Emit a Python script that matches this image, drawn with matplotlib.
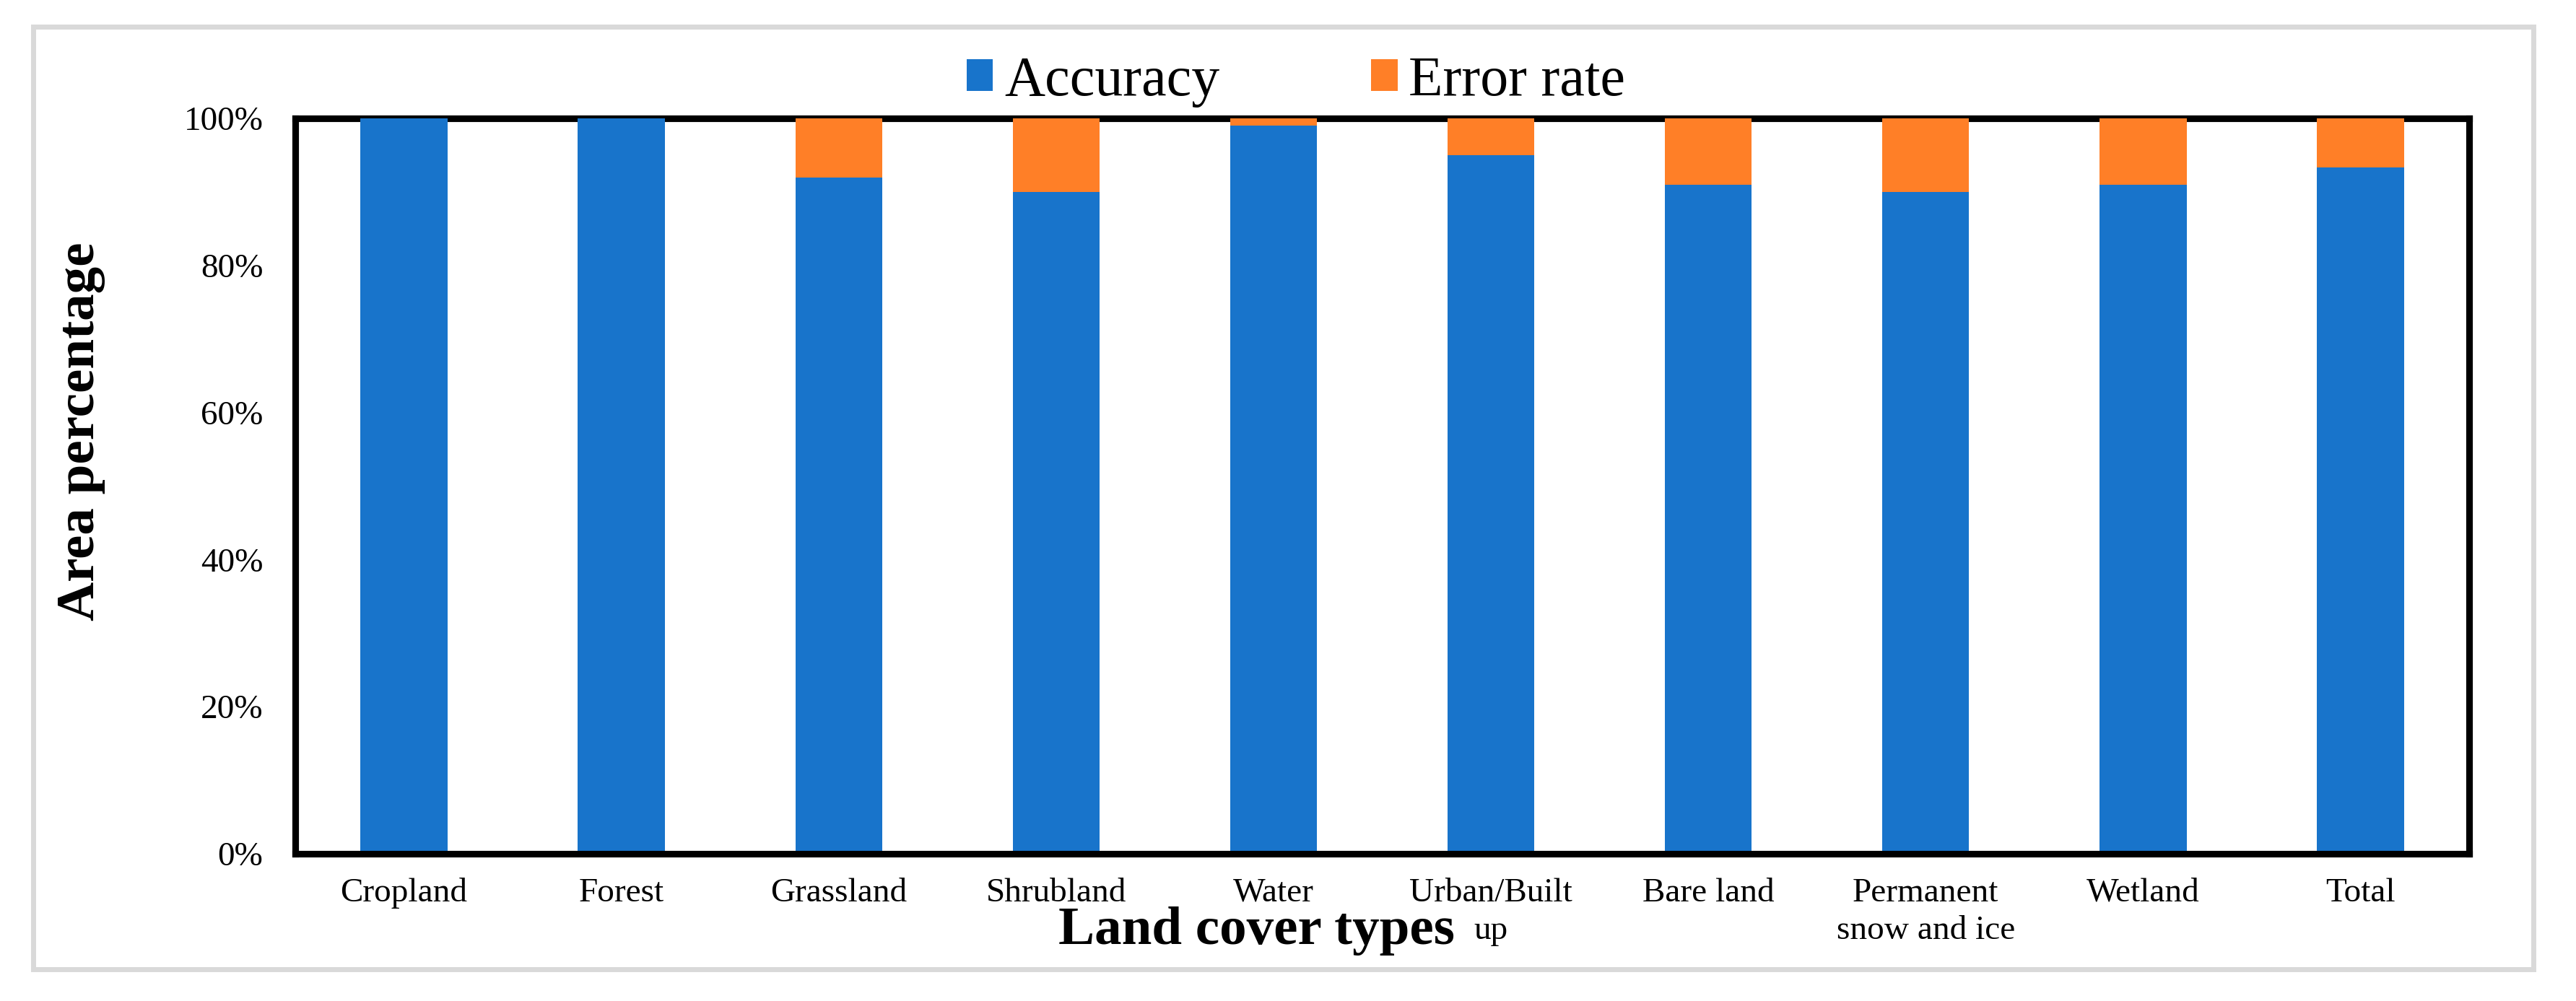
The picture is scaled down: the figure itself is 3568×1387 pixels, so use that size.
#!/usr/bin/env python3
"""Stacked accuracy / error rate bars per land cover type."""
import matplotlib

matplotlib.use("Agg")
import matplotlib.pyplot as plt
import numpy as np
from matplotlib.patches import Rectangle
from matplotlib.ticker import PercentFormatter

# Data: percentage of area
CATEGORIES = ["Cropland", "Forest", "Grassland", "Shrubland", "Water",
              "Urban/Built\nup", "Bare land", "Permanent\nsnow and ice",
              "Wetland", "Total"]
ACCURACY = [100.0, 100.0, 92.0, 90.0, 99.0, 95.0, 91.0, 90.0, 91.0, 93.3]
ERROR_RATE = [0.0, 0.0, 8.0, 10.0, 1.0, 5.0, 9.0, 10.0, 9.0, 6.7]

BLUE = "#1874CB"
ORANGE = "#FF7F27"

plt.rcParams["font.family"] = ["Liberation Serif", "DejaVu Serif"]


def main():
    W, H, dpi = 3568, 1387, 200
    fig = plt.figure(figsize=(W / dpi, H / dpi), dpi=dpi)
    ax = fig.add_axes([409 / W, 1 - 1183 / H, (3420 - 409) / W, (1183 - 164) / H])

    x = np.arange(len(CATEGORIES))
    width = 0.4
    ax.bar(x, ACCURACY, width, color=BLUE, label="Accuracy", zorder=3)
    ax.bar(x, ERROR_RATE, width, bottom=ACCURACY, color=ORANGE,
           label="Error rate", zorder=3)

    ax.set_xlim(-0.5, len(CATEGORIES) - 0.5)
    ax.set_ylim(0, 100)
    ax.set_yticks(np.arange(0, 101, 20))
    ax.yaxis.set_major_formatter(PercentFormatter(decimals=0))
    ax.set_xticks(x)
    ax.set_xticklabels(CATEGORIES, fontsize=17, linespacing=1.3)
    ax.tick_params(axis="y", length=0, pad=16, labelsize=17)
    ax.tick_params(axis="x", length=0, pad=12)

    for sp in ax.spines.values():
        sp.set_linewidth(3.3)
        sp.set_color("black")
    ax.spines["bottom"].set_zorder(4)

    fig.text(112 / W, 1 - 598 / H, "Area percentage", rotation=90,
             fontsize=27, fontweight="bold", ha="center", va="center")
    fig.text(1741 / W, 1 - 1290 / H, "Land cover types",
             fontsize=27, fontweight="bold", ha="center", va="center")

    fig.legend(loc="center", bbox_to_anchor=(1795 / W, 1 - 113 / H),
               ncol=2, frameon=False, fontsize=28, handlelength=0.47,
               handleheight=0.5, handletextpad=0.2, columnspacing=2.7)

    # light gray outer frame
    fig.patches.append(Rectangle((46 / W, 1 - 1343 / H), (3509 - 46) / W,
                                 (1343 - 37) / H, transform=fig.transFigure,
                                 fill=False, edgecolor="#D9D9D9", linewidth=2.5))

    fig.savefig("out.png", dpi=dpi)


if __name__ == "__main__":
    main()
